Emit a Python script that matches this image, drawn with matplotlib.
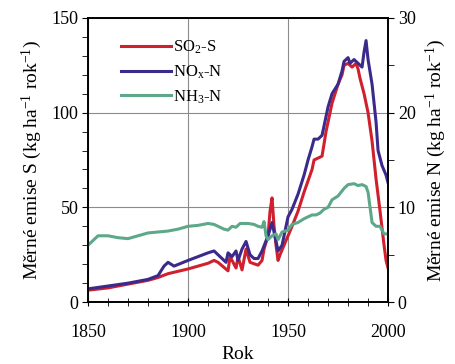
# measured specific emissions of S and N, 1850-2000
import matplotlib.pyplot as plt
import numpy as np

plt.rcParams['font.family'] = 'Liberation Serif'
plt.rcParams['mathtext.fontset'] = 'custom'
plt.rcParams['mathtext.rm'] = 'Liberation Serif'
plt.rcParams['mathtext.it'] = 'Liberation Serif:italic'

# SO2-S, kg S per ha per year (left axis)
so2_years = [1850, 1860, 1870, 1880, 1885, 1890, 1900, 1910, 1913, 1915, 1920, 1921,
             1922, 1924, 1925, 1927, 1929, 1931, 1935, 1937, 1938, 1940, 1941, 1942,
             1943, 1944, 1945, 1946, 1948, 1950, 1952, 1955, 1958, 1960, 1962, 1963,
             1965, 1967, 1969, 1970, 1972, 1975, 1977, 1978, 1980, 1982, 1984, 1985,
             1986, 1988, 1990, 1992, 1994, 1996, 1998, 1999, 2000]
so2_s = [6.3, 7.5, 9.5, 11.5, 13, 15, 17.5, 20.5, 22, 21, 16.5, 24,
         22, 18, 24, 17, 28, 21, 19.5, 22, 28, 35, 48, 55,
         40, 30, 22, 25, 30, 35, 40, 48, 58, 64, 70, 75,
         76, 77, 90, 95, 105, 115, 120, 125, 126, 124, 126, 123,
         118, 110, 100, 85, 65, 48, 30, 22, 18]

# NOx-N, kg N per ha per year (right axis)
nox_years = [1850, 1860, 1870, 1880, 1885, 1888, 1890, 1893, 1900, 1910, 1913, 1916,
             1919, 1920, 1922, 1924, 1925, 1927, 1929, 1931, 1933, 1935, 1937, 1940,
             1942, 1943, 1945, 1947, 1950, 1952, 1955, 1958, 1960, 1962, 1963, 1965,
             1967, 1969, 1970, 1972, 1975, 1977, 1978, 1980, 1981, 1983, 1985, 1987,
             1988, 1989, 1990, 1992, 1994, 1995, 1997, 1999, 2000]
nox_n = [1.4, 1.7, 2.0, 2.4, 2.8, 3.8, 4.2, 3.8, 4.4, 5.2, 5.4, 4.8,
         4.2, 5.2, 4.8, 5.4, 4.4, 5.6, 6.4, 5.0, 4.6, 4.6, 5.4, 7.0,
         8.4, 7.4, 5.4, 6.0, 9.0, 9.8, 11.4, 13.4, 15.0, 16.4, 17.2, 17.2,
         17.6, 19.6, 20.6, 22.0, 23.0, 24.4, 25.4, 25.8, 25.2, 25.6, 25.2, 24.8,
         26.4, 27.6, 25.6, 23.0, 19.0, 16.0, 14.4, 13.4, 12.6]

# NH3-N, kg N per ha per year (right axis)
nh3_years = [1850, 1853, 1855, 1860, 1865, 1870, 1875, 1880, 1885, 1890, 1895, 1900,
             1905, 1910, 1913, 1915, 1918, 1920, 1922, 1924, 1926, 1930, 1933, 1935,
             1937, 1938, 1939, 1940, 1942, 1944, 1945, 1947, 1950, 1952, 1955, 1958,
             1960, 1962, 1964, 1966, 1968, 1970, 1972, 1975, 1978, 1980, 1983, 1985,
             1987, 1989, 1990, 1991, 1992, 1994, 1996, 1998, 2000]
nh3_n = [6.0, 6.6, 7.0, 7.0, 6.8, 6.7, 7.0, 7.3, 7.4, 7.5, 7.7, 8.0,
         8.1, 8.3, 8.2, 8.0, 7.7, 7.6, 8.0, 7.9, 8.3, 8.3, 8.2, 8.0,
         7.9, 8.5, 7.0, 6.6, 7.0, 7.2, 6.6, 7.4, 7.6, 8.2, 8.4, 8.8,
         9.0, 9.2, 9.2, 9.4, 9.8, 10.0, 10.8, 11.2, 12.0, 12.4, 12.5, 12.3,
         12.4, 12.2, 11.6, 10.0, 8.4, 8.0, 8.0, 7.2, 7.2]

red = '#d0202e'
blue = '#3b2a8c'
green = '#5ea88a'

fig = plt.figure(figsize=(4.56, 3.64), dpi=100)
ax1 = fig.add_axes([0.193, 0.170, 0.658, 0.781])
ax2 = ax1.twinx()

l1, = ax1.plot(so2_years, so2_s, color=red, lw=2.2)
l2, = ax2.plot(nox_years, nox_n, color=blue, lw=2.2)
l3, = ax2.plot(nh3_years, nh3_n, color=green, lw=2.2)

ax1.set_xlim(1850, 2000)
ax1.set_ylim(0, 150)
ax2.set_ylim(0, 30)
ax1.set_xticks([1850, 1900, 1950, 2000])
ax1.set_xticks(np.arange(1850, 2001, 10), minor=True)
ax1.set_yticks([0, 50, 100, 150])
ax1.set_yticks(np.arange(0, 151, 10), minor=True)
ax2.set_yticks([0, 10, 20, 30])
ax2.set_yticks([5, 15, 25], minor=True)

ax1.grid(True, which='major', color='#8c8c8c', lw=0.8)
ax1.tick_params(axis='x', which='both', direction='inout', length=6, pad=13, labelsize=13)
ax1.tick_params(axis='y', which='both', direction='out', length=4, pad=3, labelsize=13)
ax2.tick_params(axis='y', which='both', direction='out', length=4, pad=3, labelsize=13)
for ax in (ax1, ax2):
    for sp in ax.spines.values():
        sp.set_linewidth(1.2)

ax1.set_xlabel('Rok', fontsize=14, labelpad=3)
ax1.set_ylabel('Měrné emise S (kg ha$^{-1}$ rok$^{-1}$)', fontsize=14, labelpad=5)
ax2.set_ylabel('Měrné emise N (kg ha$^{-1}$ rok$^{-1}$)', fontsize=14, labelpad=6)

ax2.legend([l1, l2, l3], ['SO$_2$-S', 'NO$_\\mathrm{x}$-N', 'NH$_3$-N'], loc='upper left',
           frameon=False, handlelength=3.0, handletextpad=0.1, labelspacing=0.45,
           fontsize=12, bbox_to_anchor=(0.06, 0.98))

fig.savefig('out.png', dpi=100)
